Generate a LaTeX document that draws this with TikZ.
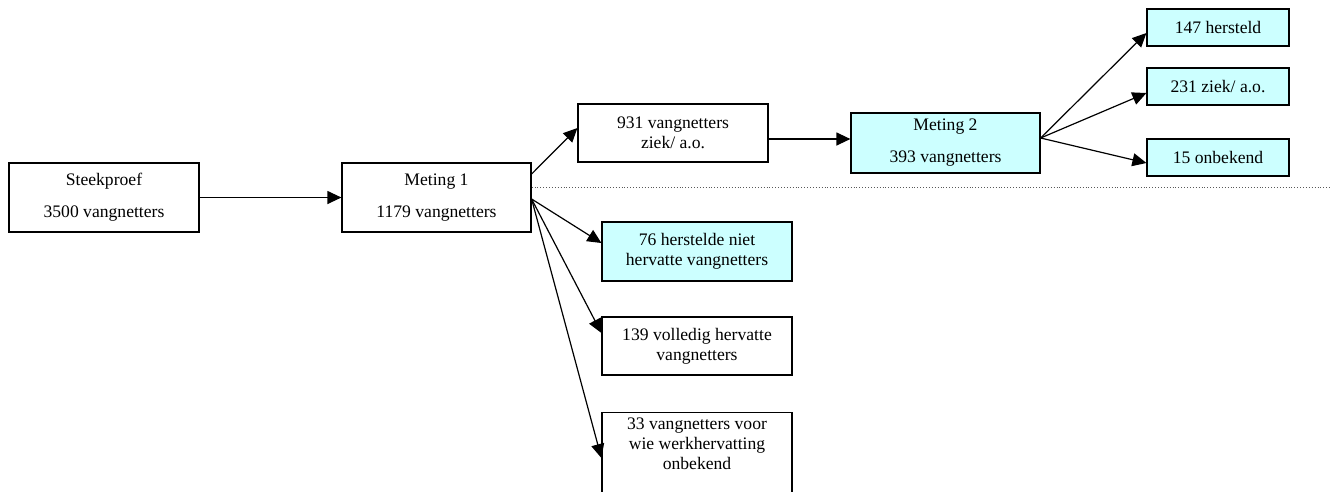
\documentclass[tikz,border=0pt]{standalone}
\usepackage{fontspec}
\setmainfont{Liberation Serif}
\usetikzlibrary{arrows.meta,calc}
\definecolor{boxcyan}{RGB}{204,255,255}
\begin{document}
\begin{tikzpicture}[x=1pt,y=-1pt,
  box/.style={draw=black,line width=1.2pt,fill=white,align=center,
    inner sep=0pt,font=\fontsize{17.6}{20}\selectfont},
  cyanbox/.style={box,fill=boxcyan},
  flow/.style={line width=1.2pt,-{Triangle[length=14pt,width=13pt]}},
  divider/.style={dotted,line width=0.9pt,gray!70!black}]
\useasboundingbox (0,0) rectangle (1332,491);

% main chain
\node[box,minimum width=190,minimum height=69] (st) at (104,197.5)
  {Steekproef\\[12pt]3500 vangnetters};
\node[box,minimum width=189,minimum height=69] (m1) at (436.5,197.5)
  {Meting 1\\[12pt]1179 vangnetters};
\node[box,minimum width=190,minimum height=58] (b931) at (673,133)
  {931 vangnetters\\ziek/ a.o.};
\node[cyanbox,minimum width=189,minimum height=60] (m2) at (945.5,143)
  {Meting 2\\[12pt]393 vangnetters};

% outcomes of the second measurement
\node[cyanbox,minimum width=142,minimum height=37] (b147) at (1218,27.5) {147 hersteld};
\node[cyanbox,minimum width=142,minimum height=37] (b231) at (1218,86.5) {231 ziek/ a.o.};
\node[cyanbox,minimum width=142,minimum height=37] (b15) at (1218,157.5) {15 onbekend};

% outcomes of the first measurement
\node[cyanbox,minimum width=190,minimum height=59] (b76) at (697,251.5)
  {76 herstelde niet\\hervatte vangnetters};
\node[box,minimum width=190,minimum height=58] (b139) at (697,346)
  {139 volledig hervatte\\vangnetters};
\node[box,anchor=north] (b33) at (697,412)
  {\parbox[c][80pt][t]{190pt}{\centering\vspace*{5pt}33 vangnetters voor\\wie werkhervatting\\onbekend}};

% separator between the two branches
\coordinate (dotend) at (1332,187);
\draw[divider] (m1.east |- dotend) -- (dotend);

% connectors
\draw[flow] (st) -- (m1);
\draw[flow] ($(m1.east)+(0,-23.5)$) -- ($(b931.west)+(0,-5)$);
\draw[flow] ($(b931.east)+(0,6)$) -- ($(m2.west)+(0,-4)$);
\coordinate (m2out) at ($(m2.east)+(0,-5)$);
\draw[flow] (m2out) -- ($(b147.west)+(0,5.5)$);
\draw[flow] (m2out) -- ($(b231.west)+(0,6.5)$);
\draw[flow] (m2out) -- ($(b15.west)+(0,5.5)$);
\coordinate (m1out) at ($(m1.east)+(0,1.5)$);
\draw[flow] (m1out) -- ($(b76.west)+(0,-8.5)$);
\draw[flow] (m1out) -- ($(b139.west)+(0,-13)$);
\draw[flow] (m1out) -- ($(b33.north west)+(0,46)$);
\end{tikzpicture}
\end{document}
